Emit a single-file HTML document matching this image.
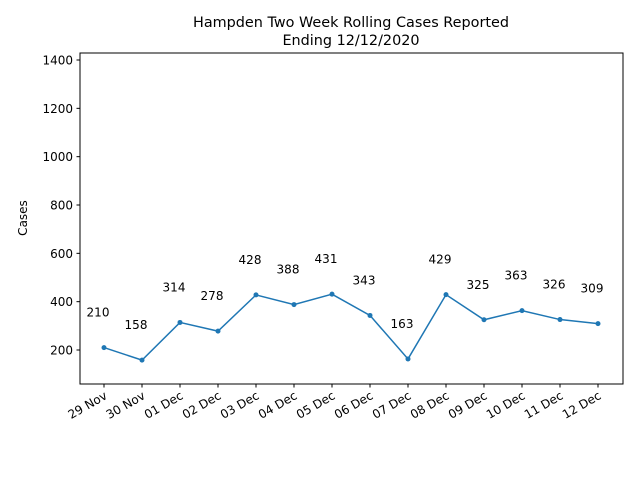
<!DOCTYPE html>
<html><head><meta charset="utf-8"><style>
body{margin:0;background:#fff}
svg{font-family:"DejaVu Sans","Liberation Sans",sans-serif}
</style></head><body>
<svg id="chart" width="640" height="480" viewBox="0 0 640 480">
<rect width="640" height="480" fill="#fff"/>
<text x="351" y="27" font-size="14.4" text-anchor="middle">Hampden Two Week Rolling Cases Reported</text>
<text x="351" y="45" font-size="14.4" text-anchor="middle">Ending 12/12/2020</text>
<text transform="translate(27,218) rotate(-90)" font-size="12" text-anchor="middle">Cases</text>
<g id="plot"></g>
</svg>
<script>
const categories=["29 Nov","30 Nov","01 Dec","02 Dec","03 Dec","04 Dec","05 Dec","06 Dec","07 Dec","08 Dec","09 Dec","10 Dec","11 Dec","12 Dec"];
const cases=[210,158,314,278,428,388,431,343,163,429,325,363,326,309];
const yTicks=[200,400,600,800,1000,1200,1400];
const L=80,R=623,T=53,B=384;
const yMin=59.3,yMax=1429;
function x(i){return 104+i*38;}
function y(v){return B-(v-yMin)/(yMax-yMin)*(B-T);}
const g=document.getElementById('plot');
const NS='http://www.w3.org/2000/svg';
function mk(t,a){const e=document.createElementNS(NS,t);for(const k in a)e.setAttribute(k,a[k]);g.appendChild(e);return e;}
const frame=mk('rect',{x:L,y:T,width:R-L,height:B-T,fill:'none',stroke:'#000','stroke-width':1});


yTicks.forEach(v=>{
  const t=mk('line',{x1:L-3.5,x2:L,y1:y(v),y2:y(v),stroke:'#000'});
  
  
  const l=mk('text',{x:L-7,y:y(v)+4.5,'font-size':12,'text-anchor':'end'});
  l.textContent=v;
  
  
});
categories.forEach((c,i)=>{
  const t=mk('line',{x1:x(i),x2:x(i),y1:B,y2:B+3.5,stroke:'#000'});
  
  
  const l=mk('text',{x:0,y:0,'font-size':12,'text-anchor':'end',transform:`translate(${x(i)+4},${B+14}) rotate(-30)`});
  l.textContent=c;
  
  
});
const line=mk('polyline',{points:cases.map((v,i)=>x(i)+','+y(v)).join(' '),fill:'none',stroke:'#1f77b4','stroke-width':1.5});


cases.forEach((v,i)=>{
  const p=mk('circle',{cx:x(i),cy:y(v),r:2.5,fill:'#1f77b4'});
  
  
  const l=mk('text',{x:x(i)-6,y:y(v)-31,'font-size':12,'text-anchor':'middle'});
  l.textContent=v;
  
  
});
</script>
</body></html>
